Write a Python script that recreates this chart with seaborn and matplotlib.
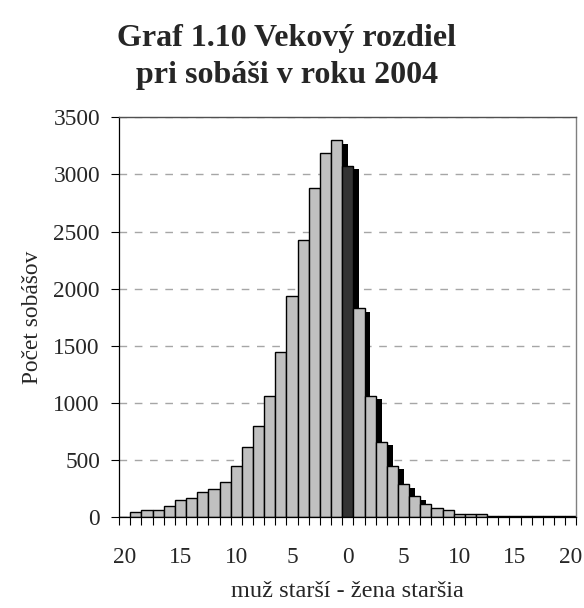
"""plot.py
Age difference at marriage in 2004 (Graf 1.10).
"""

# Imports
import matplotlib.pyplot as plt
import matplotlib.patheffects as pe
from matplotlib.ticker import FixedLocator
import seaborn as sns
import pandas as pd


# Data
age_diff = list(range(-20, 21))
marriages = [0, 49, 67, 67, 102, 150, 172, 224, 245, 312,
             452, 613, 802, 1064, 1449, 1939, 2426, 2884, 3185, 3301,
             3077,
             1829, 1064, 662, 452, 289, 184, 116, 83, 61, 30,
             30, 30, 16, 15, 14, 13, 12, 11, 10, 9]
x_tick_pos = [0, 5, 10, 15, 20, 25, 30, 35, 40]
x_tick_labels = ['20', '15', '10', '5', '0', '5', '10', '15', '20']
y_ticks = [0, 500, 1000, 1500, 2000, 2500, 3000, 3500]

title_lines = ['Graf 1.10 Vekový rozdiel', 'pri sobáši v roku 2004']
xlab = 'muž starší - žena staršia'
ylab = 'Počet sobášov'

# Table for seaborn
df = pd.DataFrame({'diff': [str(d) for d in age_diff], 'count': marriages})
order = df['diff'].tolist()
palette = {str(d): ('#333333' if d == 0 else '#C0C0C0') for d in age_diff}

# Style
sns.set_style('white')
plt.rcParams['font.family'] = ['Liberation Serif', 'DejaVu Serif']
fs = 16.8

# Create figure
fig = plt.figure(figsize=(5.84, 6.08), dpi=100)
ax = fig.add_axes([0.204, 0.149, 0.783, 0.658])

# Bars
sns.barplot(data=df, x='diff', y='count', hue='diff', order=order,
            hue_order=order, palette=palette, legend=False, width=1.0,
            saturation=1, edgecolor='black', linewidth=1.0, ax=ax)

# Drop shadow, drawn bar by bar so the next bar covers it
for patch in ax.patches:
    patch.set_path_effects([
        pe.SimplePatchShadow(offset=(4.3, -2.5), shadow_rgbFace='black',
                             alpha=1.0),
        pe.Normal()])

# Axes limits and grid
ax.set_xlim(-0.5, len(age_diff) - 0.5)
ax.set_ylim(0, 3500)
ax.set_yticks(y_ticks)
ax.yaxis.grid(True, color='#A6A6A6', linestyle=(0, (5.5, 5.5)),
              linewidth=1.0)
ax.xaxis.grid(False)
ax.set_axisbelow(True)

# X ticks: marks between bars, labels every 5 years
ax.xaxis.set_major_locator(FixedLocator(x_tick_pos))
ax.set_xticklabels(x_tick_labels)
ax.xaxis.set_minor_locator(
    FixedLocator([i - 0.5 for i in range(len(age_diff) + 1)]))
ax.tick_params(axis='x', which='major', length=0, pad=21.5, labelsize=fs)
ax.tick_params(axis='x', which='minor', length=5.8, width=0.8,
               color='black', direction='out', bottom=True)
ax.tick_params(axis='y', which='major', length=5.8, width=0.8,
               color='black', direction='out', left=True, pad=8,
               labelsize=fs)

# Spines
for side in ['left', 'bottom']:
    ax.spines[side].set_color('black')
    ax.spines[side].set_linewidth(0.9)
ax.spines['top'].set_color('#505050')
ax.spines['top'].set_linewidth(1.0)
ax.spines['right'].set_color('#808080')
ax.spines['right'].set_linewidth(1.0)

# Labels
ax.set_xlabel(xlab, fontsize=17.5)
ax.xaxis.label.set_va('baseline')
ax.xaxis.set_label_coords(0.5, -0.198)
ax.set_ylabel(ylab, fontsize=fs)
ax.yaxis.label.set_va('baseline')
ax.yaxis.set_label_coords(-0.178, 0.5)

# Title
fig.text(0.4914, 0.9243, title_lines[0], ha='center', va='baseline',
         fontsize=23, fontweight='bold')
fig.text(0.4914, 0.8635, title_lines[1], ha='center', va='baseline',
         fontsize=23, fontweight='bold')

# Save figure
fig.savefig('out.png', dpi=100)
